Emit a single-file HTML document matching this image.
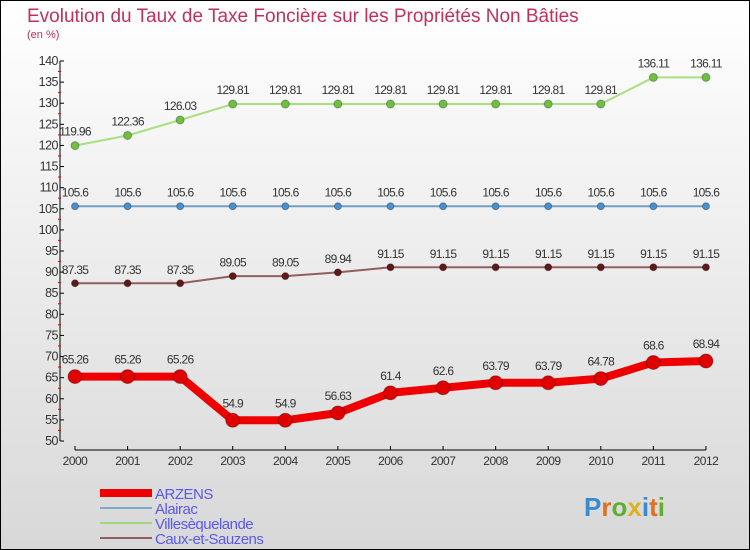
<!DOCTYPE html>
<html><head><meta charset="utf-8"><style>
html,body{margin:0;padding:0}
body{width:750px;height:550px;overflow:hidden;font-family:"Liberation Sans",sans-serif}
#wrap{position:absolute;left:0;top:0;width:748px;height:548px;border:1px solid #000;background:linear-gradient(#ffffff,#d8d8d8)}
</style></head><body>
<div id="wrap">
<svg id="chart" width="750" height="550" style="position:absolute;left:-1px;top:-1px">
<text x="27" y="22" font-size="19" fill="#c0305a">Evolution du Taux de Taxe Foncière sur les Propriétés Non Bâties</text>
<text x="27" y="38" font-size="11" fill="#c0305a">(en %)</text>
<g id="axes"></g><g id="series"></g><g id="legend"></g>
<g font-size="26" font-weight="bold">
<text x="584" y="516"><tspan fill="#3a8ad0">P</tspan><tspan fill="#e07020">r</tspan><tspan fill="#60b030">o</tspan><tspan fill="#e0b020">x</tspan><tspan fill="#3a8ad0">i</tspan><tspan fill="#e07020">t</tspan><tspan fill="#60b030">i</tspan></text>
</g>
</svg>
</div>
<script>
const years=[2000,2001,2002,2003,2004,2005,2006,2007,2008,2009,2010,2011,2012];
const arzens=[65.26,65.26,65.26,54.9,54.9,56.63,61.4,62.6,63.79,63.79,64.78,68.6,68.94];
const alairac=[105.6,105.6,105.6,105.6,105.6,105.6,105.6,105.6,105.6,105.6,105.6,105.6,105.6];
const villes=[119.96,122.36,126.03,129.81,129.81,129.81,129.81,129.81,129.81,129.81,129.81,136.11,136.11];
const caux=[87.35,87.35,87.35,89.05,89.05,89.94,91.15,91.15,91.15,91.15,91.15,91.15,91.15];
const yTicks=[50,55,60,65,70,75,80,85,90,95,100,105,110,115,120,125,130,135,140];
const NS='http://www.w3.org/2000/svg';
function X(i){return 75+i*52.58;}
function Y(v){return 441-(v-50)*(380/90);}
function mk(tag,attrs,parent,txt){const e=document.createElementNS(NS,tag);for(const k in attrs)e.setAttribute(k,attrs[k]);if(txt!==undefined)e.textContent=txt;parent.appendChild(e);return e;}
const ax=document.getElementById('axes');
const yl=mk('line',{x1:60,y1:Y(140),x2:60,y2:Y(50),stroke:'#000'},ax);


yTicks.forEach((t,k)=>{
  const y=Y(t);
  mk('line',{x1:60,y1:y,x2:64,y2:y,stroke:'#000'},ax);
  if(k>0) mk('line',{x1:58,y1:y+10.5,x2:61,y2:y+10.5,stroke:'#e00000'},ax);
  const tx=mk('text',{x:58,y:y+4,'font-size':12.5,'text-anchor':'end',fill:'#333','letter-spacing':'-0.5'},ax,String(t));
  
  
});
const xl=mk('line',{x1:X(0),y1:450,x2:X(12),y2:450,stroke:'#000'},ax);


years.forEach((yr,i)=>{
  mk('line',{x1:X(i),y1:446,x2:X(i),y2:450,stroke:'#000'},ax);
  const tx=mk('text',{x:X(i),y:465,'font-size':12,'text-anchor':'middle',fill:'#333','letter-spacing':'-0.5'},ax,String(yr));
  
  
});
const sg=document.getElementById('series');
function draw(vals,name,color,w,r,fill){
  const g=mk('g',{},sg);
  
  
  const pl=mk('polyline',{points:vals.map((v,i)=>X(i)+','+Y(v)).join(' '),fill:'none',stroke:color,'stroke-width':w,'stroke-linejoin':'round'},g);
  
  
  vals.forEach((v,i)=>{
    const c=mk('circle',{cx:X(i),cy:Y(v),r:r,fill:fill,stroke:'rgba(0,0,0,0.3)','stroke-width':1},g);
    
    
    const t=mk('text',{x:X(i),y:Y(v)-(r+6),'font-size':12,'text-anchor':'middle',fill:'#333','letter-spacing':'-0.7'},g,String(v));
    
    
  });
}
draw(villes,'villesequelande','#a8e080',2,4,'#70c040');
draw(alairac,'alairac','#70a0c8',2,3.5,'#4a90d0');
draw(caux,'caux-et-sauzens','#906060',2,3.5,'#601818');
draw(arzens,'arzens','#ee0000',8,7,'#e00000');
const lg=document.getElementById('legend');
const items=[['ARZENS','#ee0000',8],['Alairac','#80a8c8',2],['Villesèquelande','#a0d880',2],['Caux-et-Sauzens','#906060',2]];
items.forEach((it,i)=>{
  const y=493+i*15;
  const g=mk('g',{},lg);
  
  
  mk('line',{x1:100,y1:y,x2:152,y2:y,stroke:it[1],'stroke-width':it[2]},g);
  mk('text',{x:155,y:y+6,'font-size':15,fill:'#5a5ae8','letter-spacing':'-0.5'},g,it[0]);
});
</script>
</body></html>
